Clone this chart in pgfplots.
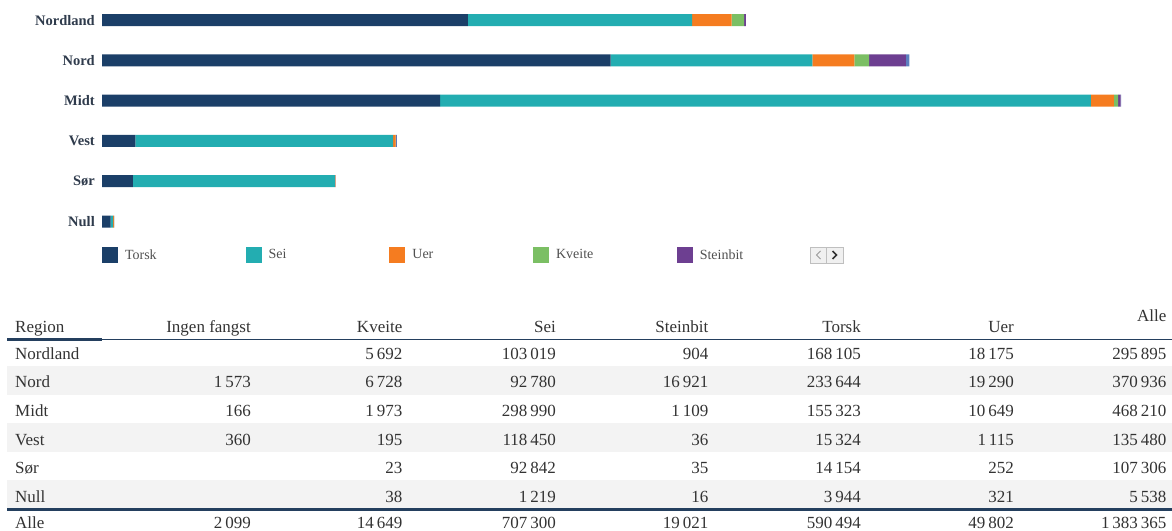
\documentclass[border=0pt]{standalone}
\usepackage{fontspec}
\setmainfont{Liberation Serif}
\usepackage{pgfplots}
\pgfplotsset{compat=1.18}
\definecolor{cTorsk}{HTML}{1B3F68}
\definecolor{cSei}{HTML}{23ADB1}
\definecolor{cUer}{HTML}{F57C20}
\definecolor{cKveite}{HTML}{7BBF64}
\definecolor{cSteinbit}{HTML}{6D3F91}
\definecolor{cIngen}{HTML}{5C7FBF}
\definecolor{lbl}{HTML}{2F3B4C}
\definecolor{txt}{HTML}{333333}
\definecolor{legtxt}{HTML}{505050}
\definecolor{rowbg}{HTML}{F3F3F3}
\definecolor{navy}{HTML}{243F5E}
\pgfplotsset{sqlegend/.style={legend image code/.code={\fill[##1,draw=none] (0pt,-8pt) rectangle (16pt,8pt);}}}
\newcommand{\legbox}[1]{\makebox[127.7pt][l]{\hspace*{7pt}#1}}
\newcommand{\trow}[9]{%
  \node[anchor=base west] at (15,#1) {#2};
  \node[anchor=base east] at (251,#1) {#3};
  \node[anchor=base east] at (402.5,#1) {#4};
  \node[anchor=base east] at (556,#1) {#5};
  \node[anchor=base east] at (708.5,#1) {#6};
  \node[anchor=base east] at (861,#1) {#7};
  \node[anchor=base east] at (1014,#1) {#8};
  \node[anchor=base east] at (1166.5,#1) {#9};
}
\begin{document}
\begin{tikzpicture}
\useasboundingbox (0pt,0pt) rectangle (1172pt,-530pt);
\begin{axis}[
  at={(102pt,-20.2pt)}, anchor=north west,
  scale only axis, width=1044.72pt, height=201.3pt,
  xmin=0, xmax=480000, ymin=0, ymax=5, y dir=reverse,
  xbar stacked, bar width=12pt,
  axis line style={draw=none}, tick style={draw=none},
  xtick=\empty, ytick={0,1,2,3,4,5},
  yticklabels={Nordland,Nord,Midt,Vest,Sør,Null},
  yticklabel style={font=\fontsize{14.5}{16}\selectfont\bfseries, text=lbl, inner sep=0pt, xshift=-7pt, anchor=east},
  clip=false,
  legend columns=-1,
  legend cell align=left,
  legend style={at={(0,-0.1664)}, anchor=west, draw=none, fill=none, inner sep=0pt, outer sep=0pt,
    nodes={inner sep=0pt, font=\fontsize{14}{16}\selectfont, text=legtxt},
    /tikz/every even column/.append style={column sep=0pt}},
]
\addplot[fill=cTorsk, draw=none, sqlegend] coordinates {(168105,0) (233644,1) (155323,2) (15324,3) (14154,4) (3944,5)};
\addlegendentry{\legbox{Torsk}}
\addplot[fill=cSei, draw=none, sqlegend] coordinates {(103019,0) (92780,1) (298990,2) (118450,3) (92842,4) (1219,5)};
\addlegendentry{\legbox{Sei}}
\addplot[fill=cUer, draw=none, sqlegend] coordinates {(18175,0) (19290,1) (10649,2) (1115,3) (252,4) (321,5)};
\addlegendentry{\legbox{Uer}}
\addplot[fill=cKveite, draw=none, sqlegend] coordinates {(5692,0) (6728,1) (1973,2) (195,3) (23,4) (38,5)};
\addlegendentry{\legbox{Kveite}}
\addplot[fill=cSteinbit, draw=none, sqlegend] coordinates {(904,0) (16921,1) (1109,2) (36,3) (35,4) (16,5)};
\addlegendentry{\legbox{Steinbit}}
\addplot[fill=cIngen, draw=none, forget plot] coordinates {(0,0) (1573,1) (166,2) (360,3) (0,4) (0,5)};
\end{axis}
\begin{scope}[x=1pt,y=-1pt]
% legend navigation
\filldraw[fill=black!6, draw=black!25, line width=0.6pt] (810,247) rectangle (843,263);
\draw[black!25, line width=0.6pt] (826.5,247) -- (826.5,263);
\draw[black!40, line width=1pt] (820.5,251) -- (816.5,255) -- (820.5,259);
\draw[black!80, line width=1.6pt] (832.5,251) -- (836.5,255) -- (832.5,259);
% table
\fill[rowbg] (7,366) rectangle (1172,394.6);
\fill[rowbg] (7,423.2) rectangle (1172,451.8);
\fill[rowbg] (7,480.4) rectangle (1172,509);
\draw[navy, line width=1.2pt] (7,339.3) -- (1172,339.3);
\draw[navy, line width=3pt] (7,339) -- (102,339);
\draw[navy, line width=3pt] (7,509.5) -- (1172,509.5);
\begin{scope}[every node/.style={inner sep=0pt, font=\fontsize{17}{20}\selectfont, text=txt}]
\node[anchor=base west] at (15,332.5) {Region};
\node[anchor=base east] at (251,332.5) {Ingen fangst};
\node[anchor=base east] at (402.5,332.5) {Kveite};
\node[anchor=base east] at (556,332.5) {Sei};
\node[anchor=base east] at (708.5,332.5) {Steinbit};
\node[anchor=base east] at (861,332.5) {Torsk};
\node[anchor=base east] at (1014,332.5) {Uer};
\node[anchor=base east] at (1166.5,321) {Alle};
\trow{359.2}{Nordland}{}{5\,692}{103\,019}{904}{168\,105}{18\,175}{295\,895}
\trow{387.8}{Nord}{1\,573}{6\,728}{92\,780}{16\,921}{233\,644}{19\,290}{370\,936}
\trow{416.4}{Midt}{166}{1\,973}{298\,990}{1\,109}{155\,323}{10\,649}{468\,210}
\trow{445}{Vest}{360}{195}{118\,450}{36}{15\,324}{1\,115}{135\,480}
\trow{473.6}{Sør}{}{23}{92\,842}{35}{14\,154}{252}{107\,306}
\trow{502.2}{Null}{}{38}{1\,219}{16}{3\,944}{321}{5\,538}
\trow{528.5}{Alle}{2\,099}{14\,649}{707\,300}{19\,021}{590\,494}{49\,802}{1\,383\,365}
\end{scope}
\end{scope}
\end{tikzpicture}
\end{document}
